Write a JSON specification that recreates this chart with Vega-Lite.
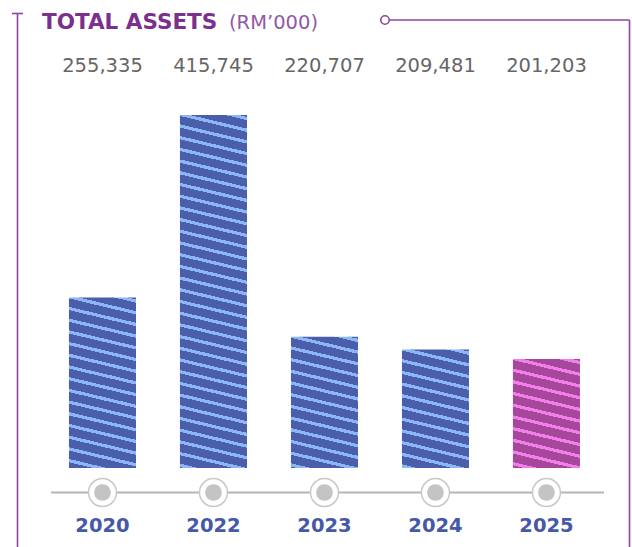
{
  "$schema": "https://vega.github.io/schema/vega-lite/v6.json",
  "width": 632,
  "height": 547,
  "padding": 0,
  "autosize": {"type": "none"},
  "background": "white",
  "config": {"view": {"stroke": null}},
  "data": {"values": [
    {"year": "2020", "value": 255335},
    {"year": "2022", "value": 415745},
    {"year": "2023", "value": 220707},
    {"year": "2024", "value": 209481},
    {"year": "2025", "value": 201203}
  ]},
  "layer": [
    {"data": {"values": [{}]}, "mark": {"type": "rule", "stroke": "#8b46a3", "strokeWidth": 1.6}, "encoding": {"x": {"value": 17.5}, "y": {"value": 13}, "y2": {"value": 547}}},
    {"data": {"values": [{}]}, "mark": {"type": "rule", "stroke": "#8b46a3", "strokeWidth": 1.6}, "encoding": {"x": {"value": 12}, "x2": {"value": 23}, "y": {"value": 13.5}}},
    {"data": {"values": [{}]}, "mark": {"type": "rule", "stroke": "#8b46a3", "strokeWidth": 1.6}, "encoding": {"x": {"value": 389.5}, "x2": {"value": 629.5}, "y": {"value": 20}}},
    {"data": {"values": [{}]}, "mark": {"type": "rule", "stroke": "#8b46a3", "strokeWidth": 1.6}, "encoding": {"x": {"value": 629.5}, "y": {"value": 20}, "y2": {"value": 547}}},
    {"data": {"values": [{}]}, "mark": {"type": "point", "shape": "circle", "size": 72, "filled": true, "fill": "white", "stroke": "#8b46a3", "strokeWidth": 1.6, "opacity": 1}, "encoding": {"x": {"value": 385}, "y": {"value": 20}}},
    {"data": {"values": [{}]}, "mark": {"type": "text", "text": "TOTAL ASSETS", "align": "left", "baseline": "alphabetic", "font": "DejaVu Sans", "fontWeight": "bold", "fontSize": 21.5, "fill": "#7b2f8e"}, "encoding": {"x": {"value": 42}, "y": {"value": 28.5}}},
    {"data": {"values": [{}]}, "mark": {"type": "text", "text": "(RM’000)", "align": "left", "baseline": "alphabetic", "font": "DejaVu Sans", "fontWeight": "normal", "fontSize": 19.5, "fill": "#9358a6"}, "encoding": {"x": {"value": 229}, "y": {"value": 28.5}}},
    {"data": {"values": [{}]}, "mark": {"type": "rule", "stroke": "#b5b5b5", "strokeWidth": 2}, "encoding": {"x": {"value": 51}, "x2": {"value": 604}, "y": {"value": 492.5}}},
    {
      "transform": [{"filter": "datum.year == '2020'"}],
      "mark": {"type": "bar", "fill": {"gradient": "linear", "x1": 1, "y1": 0, "x2": 0.89832, "y2": 1.08424, "stops": [
        {"offset": 0, "color": "#4a5eab"},
        {"offset": 0.0107, "color": "#4a5eab"}, {"offset": 0.0107, "color": "#8cb6f6"}, {"offset": 0.0284, "color": "#8cb6f6"}, {"offset": 0.0284, "color": "#4a5eab"},
        {"offset": 0.0734, "color": "#4a5eab"}, {"offset": 0.0734, "color": "#8cb6f6"}, {"offset": 0.0911, "color": "#8cb6f6"}, {"offset": 0.0911, "color": "#4a5eab"},
        {"offset": 0.1361, "color": "#4a5eab"}, {"offset": 0.1361, "color": "#8cb6f6"}, {"offset": 0.1538, "color": "#8cb6f6"}, {"offset": 0.1538, "color": "#4a5eab"},
        {"offset": 0.1988, "color": "#4a5eab"}, {"offset": 0.1988, "color": "#8cb6f6"}, {"offset": 0.2165, "color": "#8cb6f6"}, {"offset": 0.2165, "color": "#4a5eab"},
        {"offset": 0.2615, "color": "#4a5eab"}, {"offset": 0.2615, "color": "#8cb6f6"}, {"offset": 0.2792, "color": "#8cb6f6"}, {"offset": 0.2792, "color": "#4a5eab"},
        {"offset": 0.3242, "color": "#4a5eab"}, {"offset": 0.3242, "color": "#8cb6f6"}, {"offset": 0.3419, "color": "#8cb6f6"}, {"offset": 0.3419, "color": "#4a5eab"},
        {"offset": 0.3869, "color": "#4a5eab"}, {"offset": 0.3869, "color": "#8cb6f6"}, {"offset": 0.4046, "color": "#8cb6f6"}, {"offset": 0.4046, "color": "#4a5eab"},
        {"offset": 0.4496, "color": "#4a5eab"}, {"offset": 0.4496, "color": "#8cb6f6"}, {"offset": 0.4673, "color": "#8cb6f6"}, {"offset": 0.4673, "color": "#4a5eab"},
        {"offset": 0.5123, "color": "#4a5eab"}, {"offset": 0.5123, "color": "#8cb6f6"}, {"offset": 0.5300, "color": "#8cb6f6"}, {"offset": 0.5300, "color": "#4a5eab"},
        {"offset": 0.5750, "color": "#4a5eab"}, {"offset": 0.5750, "color": "#8cb6f6"}, {"offset": 0.5927, "color": "#8cb6f6"}, {"offset": 0.5927, "color": "#4a5eab"},
        {"offset": 0.6377, "color": "#4a5eab"}, {"offset": 0.6377, "color": "#8cb6f6"}, {"offset": 0.6554, "color": "#8cb6f6"}, {"offset": 0.6554, "color": "#4a5eab"},
        {"offset": 0.7004, "color": "#4a5eab"}, {"offset": 0.7004, "color": "#8cb6f6"}, {"offset": 0.7181, "color": "#8cb6f6"}, {"offset": 0.7181, "color": "#4a5eab"},
        {"offset": 0.7631, "color": "#4a5eab"}, {"offset": 0.7631, "color": "#8cb6f6"}, {"offset": 0.7808, "color": "#8cb6f6"}, {"offset": 0.7808, "color": "#4a5eab"},
        {"offset": 0.8258, "color": "#4a5eab"}, {"offset": 0.8258, "color": "#8cb6f6"}, {"offset": 0.8435, "color": "#8cb6f6"}, {"offset": 0.8435, "color": "#4a5eab"},
        {"offset": 0.8885, "color": "#4a5eab"}, {"offset": 0.8885, "color": "#8cb6f6"}, {"offset": 0.9062, "color": "#8cb6f6"}, {"offset": 0.9062, "color": "#4a5eab"},
        {"offset": 0.9512, "color": "#4a5eab"}, {"offset": 0.9512, "color": "#8cb6f6"}, {"offset": 0.9689, "color": "#8cb6f6"}, {"offset": 0.9689, "color": "#4a5eab"},
        {"offset": 1, "color": "#4a5eab"}
      ]}},
      "encoding": {
        "x": {"field": "year", "type": "nominal", "axis": null, "scale": {"paddingInner": 0.396, "paddingOuter": 0.545, "align": 0.57}},
        "y": {"field": "value", "type": "quantitative", "axis": null, "scale": {"domain": [36000, 516700], "zero": false, "nice": false}},
        "y2": {"datum": 105400}
      }
    },
    {
      "transform": [{"filter": "datum.year == '2022'"}],
      "mark": {"type": "bar", "fill": {"gradient": "linear", "x1": 1, "y1": 0, "x2": 0.95273, "y2": 1.04317, "stops": [
        {"offset": 0, "color": "#4a5eab"},
        {"offset": 0.0054, "color": "#4a5eab"}, {"offset": 0.0054, "color": "#8cb6f6"}, {"offset": 0.0144, "color": "#8cb6f6"}, {"offset": 0.0144, "color": "#4a5eab"},
        {"offset": 0.0371, "color": "#4a5eab"}, {"offset": 0.0371, "color": "#8cb6f6"}, {"offset": 0.0461, "color": "#8cb6f6"}, {"offset": 0.0461, "color": "#4a5eab"},
        {"offset": 0.0688, "color": "#4a5eab"}, {"offset": 0.0688, "color": "#8cb6f6"}, {"offset": 0.0778, "color": "#8cb6f6"}, {"offset": 0.0778, "color": "#4a5eab"},
        {"offset": 0.1005, "color": "#4a5eab"}, {"offset": 0.1005, "color": "#8cb6f6"}, {"offset": 0.1095, "color": "#8cb6f6"}, {"offset": 0.1095, "color": "#4a5eab"},
        {"offset": 0.1322, "color": "#4a5eab"}, {"offset": 0.1322, "color": "#8cb6f6"}, {"offset": 0.1412, "color": "#8cb6f6"}, {"offset": 0.1412, "color": "#4a5eab"},
        {"offset": 0.1639, "color": "#4a5eab"}, {"offset": 0.1639, "color": "#8cb6f6"}, {"offset": 0.1729, "color": "#8cb6f6"}, {"offset": 0.1729, "color": "#4a5eab"},
        {"offset": 0.1956, "color": "#4a5eab"}, {"offset": 0.1956, "color": "#8cb6f6"}, {"offset": 0.2046, "color": "#8cb6f6"}, {"offset": 0.2046, "color": "#4a5eab"},
        {"offset": 0.2273, "color": "#4a5eab"}, {"offset": 0.2273, "color": "#8cb6f6"}, {"offset": 0.2363, "color": "#8cb6f6"}, {"offset": 0.2363, "color": "#4a5eab"},
        {"offset": 0.2590, "color": "#4a5eab"}, {"offset": 0.2590, "color": "#8cb6f6"}, {"offset": 0.2680, "color": "#8cb6f6"}, {"offset": 0.2680, "color": "#4a5eab"},
        {"offset": 0.2907, "color": "#4a5eab"}, {"offset": 0.2907, "color": "#8cb6f6"}, {"offset": 0.2996, "color": "#8cb6f6"}, {"offset": 0.2996, "color": "#4a5eab"},
        {"offset": 0.3224, "color": "#4a5eab"}, {"offset": 0.3224, "color": "#8cb6f6"}, {"offset": 0.3313, "color": "#8cb6f6"}, {"offset": 0.3313, "color": "#4a5eab"},
        {"offset": 0.3541, "color": "#4a5eab"}, {"offset": 0.3541, "color": "#8cb6f6"}, {"offset": 0.3630, "color": "#8cb6f6"}, {"offset": 0.3630, "color": "#4a5eab"},
        {"offset": 0.3858, "color": "#4a5eab"}, {"offset": 0.3858, "color": "#8cb6f6"}, {"offset": 0.3947, "color": "#8cb6f6"}, {"offset": 0.3947, "color": "#4a5eab"},
        {"offset": 0.4175, "color": "#4a5eab"}, {"offset": 0.4175, "color": "#8cb6f6"}, {"offset": 0.4264, "color": "#8cb6f6"}, {"offset": 0.4264, "color": "#4a5eab"},
        {"offset": 0.4492, "color": "#4a5eab"}, {"offset": 0.4492, "color": "#8cb6f6"}, {"offset": 0.4581, "color": "#8cb6f6"}, {"offset": 0.4581, "color": "#4a5eab"},
        {"offset": 0.4809, "color": "#4a5eab"}, {"offset": 0.4809, "color": "#8cb6f6"}, {"offset": 0.4898, "color": "#8cb6f6"}, {"offset": 0.4898, "color": "#4a5eab"},
        {"offset": 0.5126, "color": "#4a5eab"}, {"offset": 0.5126, "color": "#8cb6f6"}, {"offset": 0.5215, "color": "#8cb6f6"}, {"offset": 0.5215, "color": "#4a5eab"},
        {"offset": 0.5443, "color": "#4a5eab"}, {"offset": 0.5443, "color": "#8cb6f6"}, {"offset": 0.5532, "color": "#8cb6f6"}, {"offset": 0.5532, "color": "#4a5eab"},
        {"offset": 0.5760, "color": "#4a5eab"}, {"offset": 0.5760, "color": "#8cb6f6"}, {"offset": 0.5849, "color": "#8cb6f6"}, {"offset": 0.5849, "color": "#4a5eab"},
        {"offset": 0.6077, "color": "#4a5eab"}, {"offset": 0.6077, "color": "#8cb6f6"}, {"offset": 0.6166, "color": "#8cb6f6"}, {"offset": 0.6166, "color": "#4a5eab"},
        {"offset": 0.6394, "color": "#4a5eab"}, {"offset": 0.6394, "color": "#8cb6f6"}, {"offset": 0.6483, "color": "#8cb6f6"}, {"offset": 0.6483, "color": "#4a5eab"},
        {"offset": 0.6711, "color": "#4a5eab"}, {"offset": 0.6711, "color": "#8cb6f6"}, {"offset": 0.6800, "color": "#8cb6f6"}, {"offset": 0.6800, "color": "#4a5eab"},
        {"offset": 0.7028, "color": "#4a5eab"}, {"offset": 0.7028, "color": "#8cb6f6"}, {"offset": 0.7117, "color": "#8cb6f6"}, {"offset": 0.7117, "color": "#4a5eab"},
        {"offset": 0.7345, "color": "#4a5eab"}, {"offset": 0.7345, "color": "#8cb6f6"}, {"offset": 0.7434, "color": "#8cb6f6"}, {"offset": 0.7434, "color": "#4a5eab"},
        {"offset": 0.7662, "color": "#4a5eab"}, {"offset": 0.7662, "color": "#8cb6f6"}, {"offset": 0.7751, "color": "#8cb6f6"}, {"offset": 0.7751, "color": "#4a5eab"},
        {"offset": 0.7979, "color": "#4a5eab"}, {"offset": 0.7979, "color": "#8cb6f6"}, {"offset": 0.8068, "color": "#8cb6f6"}, {"offset": 0.8068, "color": "#4a5eab"},
        {"offset": 0.8296, "color": "#4a5eab"}, {"offset": 0.8296, "color": "#8cb6f6"}, {"offset": 0.8385, "color": "#8cb6f6"}, {"offset": 0.8385, "color": "#4a5eab"},
        {"offset": 0.8613, "color": "#4a5eab"}, {"offset": 0.8613, "color": "#8cb6f6"}, {"offset": 0.8702, "color": "#8cb6f6"}, {"offset": 0.8702, "color": "#4a5eab"},
        {"offset": 0.8930, "color": "#4a5eab"}, {"offset": 0.8930, "color": "#8cb6f6"}, {"offset": 0.9019, "color": "#8cb6f6"}, {"offset": 0.9019, "color": "#4a5eab"},
        {"offset": 0.9247, "color": "#4a5eab"}, {"offset": 0.9247, "color": "#8cb6f6"}, {"offset": 0.9336, "color": "#8cb6f6"}, {"offset": 0.9336, "color": "#4a5eab"},
        {"offset": 0.9564, "color": "#4a5eab"}, {"offset": 0.9564, "color": "#8cb6f6"}, {"offset": 0.9653, "color": "#8cb6f6"}, {"offset": 0.9653, "color": "#4a5eab"},
        {"offset": 0.9881, "color": "#4a5eab"}, {"offset": 0.9881, "color": "#8cb6f6"}, {"offset": 0.9970, "color": "#8cb6f6"}, {"offset": 0.9970, "color": "#4a5eab"},
        {"offset": 1, "color": "#4a5eab"}
      ]}},
      "encoding": {
        "x": {"field": "year", "type": "nominal", "axis": null, "scale": {"paddingInner": 0.396, "paddingOuter": 0.545, "align": 0.57}},
        "y": {"field": "value", "type": "quantitative", "axis": null, "scale": {"domain": [36000, 516700], "zero": false, "nice": false}},
        "y2": {"datum": 105400}
      }
    },
    {
      "transform": [{"filter": "datum.year == '2023'"}],
      "mark": {"type": "bar", "fill": {"gradient": "linear", "x1": 1, "y1": 0, "x2": 0.86518, "y2": 1.10551, "stops": [
        {"offset": 0, "color": "#4a5eab"},
        {"offset": 0.0136, "color": "#4a5eab"}, {"offset": 0.0136, "color": "#8cb6f6"}, {"offset": 0.0360, "color": "#8cb6f6"}, {"offset": 0.0360, "color": "#4a5eab"},
        {"offset": 0.0931, "color": "#4a5eab"}, {"offset": 0.0931, "color": "#8cb6f6"}, {"offset": 0.1155, "color": "#8cb6f6"}, {"offset": 0.1155, "color": "#4a5eab"},
        {"offset": 0.1726, "color": "#4a5eab"}, {"offset": 0.1726, "color": "#8cb6f6"}, {"offset": 0.1950, "color": "#8cb6f6"}, {"offset": 0.1950, "color": "#4a5eab"},
        {"offset": 0.2520, "color": "#4a5eab"}, {"offset": 0.2520, "color": "#8cb6f6"}, {"offset": 0.2745, "color": "#8cb6f6"}, {"offset": 0.2745, "color": "#4a5eab"},
        {"offset": 0.3315, "color": "#4a5eab"}, {"offset": 0.3315, "color": "#8cb6f6"}, {"offset": 0.3539, "color": "#8cb6f6"}, {"offset": 0.3539, "color": "#4a5eab"},
        {"offset": 0.4110, "color": "#4a5eab"}, {"offset": 0.4110, "color": "#8cb6f6"}, {"offset": 0.4334, "color": "#8cb6f6"}, {"offset": 0.4334, "color": "#4a5eab"},
        {"offset": 0.4905, "color": "#4a5eab"}, {"offset": 0.4905, "color": "#8cb6f6"}, {"offset": 0.5129, "color": "#8cb6f6"}, {"offset": 0.5129, "color": "#4a5eab"},
        {"offset": 0.5700, "color": "#4a5eab"}, {"offset": 0.5700, "color": "#8cb6f6"}, {"offset": 0.5924, "color": "#8cb6f6"}, {"offset": 0.5924, "color": "#4a5eab"},
        {"offset": 0.6495, "color": "#4a5eab"}, {"offset": 0.6495, "color": "#8cb6f6"}, {"offset": 0.6719, "color": "#8cb6f6"}, {"offset": 0.6719, "color": "#4a5eab"},
        {"offset": 0.7289, "color": "#4a5eab"}, {"offset": 0.7289, "color": "#8cb6f6"}, {"offset": 0.7514, "color": "#8cb6f6"}, {"offset": 0.7514, "color": "#4a5eab"},
        {"offset": 0.8084, "color": "#4a5eab"}, {"offset": 0.8084, "color": "#8cb6f6"}, {"offset": 0.8308, "color": "#8cb6f6"}, {"offset": 0.8308, "color": "#4a5eab"},
        {"offset": 0.8879, "color": "#4a5eab"}, {"offset": 0.8879, "color": "#8cb6f6"}, {"offset": 0.9103, "color": "#8cb6f6"}, {"offset": 0.9103, "color": "#4a5eab"},
        {"offset": 0.9674, "color": "#4a5eab"}, {"offset": 0.9674, "color": "#8cb6f6"}, {"offset": 0.9898, "color": "#8cb6f6"}, {"offset": 0.9898, "color": "#4a5eab"},
        {"offset": 1, "color": "#4a5eab"}
      ]}},
      "encoding": {
        "x": {"field": "year", "type": "nominal", "axis": null, "scale": {"paddingInner": 0.396, "paddingOuter": 0.545, "align": 0.57}},
        "y": {"field": "value", "type": "quantitative", "axis": null, "scale": {"domain": [36000, 516700], "zero": false, "nice": false}},
        "y2": {"datum": 105400}
      }
    },
    {
      "transform": [{"filter": "datum.year == '2024'"}],
      "mark": {"type": "bar", "fill": {"gradient": "linear", "x1": 1, "y1": 0, "x2": 0.84935, "y2": 1.11478, "stops": [
        {"offset": 0, "color": "#4a5eab"},
        {"offset": 0.0149, "color": "#4a5eab"}, {"offset": 0.0149, "color": "#8cb6f6"}, {"offset": 0.0394, "color": "#8cb6f6"}, {"offset": 0.0394, "color": "#4a5eab"},
        {"offset": 0.1019, "color": "#4a5eab"}, {"offset": 0.1019, "color": "#8cb6f6"}, {"offset": 0.1265, "color": "#8cb6f6"}, {"offset": 0.1265, "color": "#4a5eab"},
        {"offset": 0.1890, "color": "#4a5eab"}, {"offset": 0.1890, "color": "#8cb6f6"}, {"offset": 0.2135, "color": "#8cb6f6"}, {"offset": 0.2135, "color": "#4a5eab"},
        {"offset": 0.2760, "color": "#4a5eab"}, {"offset": 0.2760, "color": "#8cb6f6"}, {"offset": 0.3006, "color": "#8cb6f6"}, {"offset": 0.3006, "color": "#4a5eab"},
        {"offset": 0.3631, "color": "#4a5eab"}, {"offset": 0.3631, "color": "#8cb6f6"}, {"offset": 0.3877, "color": "#8cb6f6"}, {"offset": 0.3877, "color": "#4a5eab"},
        {"offset": 0.4502, "color": "#4a5eab"}, {"offset": 0.4502, "color": "#8cb6f6"}, {"offset": 0.4747, "color": "#8cb6f6"}, {"offset": 0.4747, "color": "#4a5eab"},
        {"offset": 0.5372, "color": "#4a5eab"}, {"offset": 0.5372, "color": "#8cb6f6"}, {"offset": 0.5618, "color": "#8cb6f6"}, {"offset": 0.5618, "color": "#4a5eab"},
        {"offset": 0.6243, "color": "#4a5eab"}, {"offset": 0.6243, "color": "#8cb6f6"}, {"offset": 0.6488, "color": "#8cb6f6"}, {"offset": 0.6488, "color": "#4a5eab"},
        {"offset": 0.7113, "color": "#4a5eab"}, {"offset": 0.7113, "color": "#8cb6f6"}, {"offset": 0.7359, "color": "#8cb6f6"}, {"offset": 0.7359, "color": "#4a5eab"},
        {"offset": 0.7984, "color": "#4a5eab"}, {"offset": 0.7984, "color": "#8cb6f6"}, {"offset": 0.8229, "color": "#8cb6f6"}, {"offset": 0.8229, "color": "#4a5eab"},
        {"offset": 0.8854, "color": "#4a5eab"}, {"offset": 0.8854, "color": "#8cb6f6"}, {"offset": 0.9100, "color": "#8cb6f6"}, {"offset": 0.9100, "color": "#4a5eab"},
        {"offset": 0.9725, "color": "#4a5eab"}, {"offset": 0.9725, "color": "#8cb6f6"}, {"offset": 0.9970, "color": "#8cb6f6"}, {"offset": 0.9970, "color": "#4a5eab"},
        {"offset": 1, "color": "#4a5eab"}
      ]}},
      "encoding": {
        "x": {"field": "year", "type": "nominal", "axis": null, "scale": {"paddingInner": 0.396, "paddingOuter": 0.545, "align": 0.57}},
        "y": {"field": "value", "type": "quantitative", "axis": null, "scale": {"domain": [36000, 516700], "zero": false, "nice": false}},
        "y2": {"datum": 105400}
      }
    },
    {
      "transform": [{"filter": "datum.year == '2025'"}],
      "mark": {"type": "bar", "fill": {"gradient": "linear", "x1": 1, "y1": 0, "x2": 0.83522, "y2": 1.1226, "stops": [
        {"offset": 0, "color": "#a6479c"},
        {"offset": 0.0160, "color": "#a6479c"}, {"offset": 0.0160, "color": "#f27fe9"}, {"offset": 0.0424, "color": "#f27fe9"}, {"offset": 0.0424, "color": "#a6479c"},
        {"offset": 0.1096, "color": "#a6479c"}, {"offset": 0.1096, "color": "#f27fe9"}, {"offset": 0.1360, "color": "#f27fe9"}, {"offset": 0.1360, "color": "#a6479c"},
        {"offset": 0.2032, "color": "#a6479c"}, {"offset": 0.2032, "color": "#f27fe9"}, {"offset": 0.2296, "color": "#f27fe9"}, {"offset": 0.2296, "color": "#a6479c"},
        {"offset": 0.2968, "color": "#a6479c"}, {"offset": 0.2968, "color": "#f27fe9"}, {"offset": 0.3232, "color": "#f27fe9"}, {"offset": 0.3232, "color": "#a6479c"},
        {"offset": 0.3904, "color": "#a6479c"}, {"offset": 0.3904, "color": "#f27fe9"}, {"offset": 0.4168, "color": "#f27fe9"}, {"offset": 0.4168, "color": "#a6479c"},
        {"offset": 0.4840, "color": "#a6479c"}, {"offset": 0.4840, "color": "#f27fe9"}, {"offset": 0.5104, "color": "#f27fe9"}, {"offset": 0.5104, "color": "#a6479c"},
        {"offset": 0.5776, "color": "#a6479c"}, {"offset": 0.5776, "color": "#f27fe9"}, {"offset": 0.6040, "color": "#f27fe9"}, {"offset": 0.6040, "color": "#a6479c"},
        {"offset": 0.6712, "color": "#a6479c"}, {"offset": 0.6712, "color": "#f27fe9"}, {"offset": 0.6976, "color": "#f27fe9"}, {"offset": 0.6976, "color": "#a6479c"},
        {"offset": 0.7648, "color": "#a6479c"}, {"offset": 0.7648, "color": "#f27fe9"}, {"offset": 0.7912, "color": "#f27fe9"}, {"offset": 0.7912, "color": "#a6479c"},
        {"offset": 0.8584, "color": "#a6479c"}, {"offset": 0.8584, "color": "#f27fe9"}, {"offset": 0.8848, "color": "#f27fe9"}, {"offset": 0.8848, "color": "#a6479c"},
        {"offset": 0.9520, "color": "#a6479c"}, {"offset": 0.9520, "color": "#f27fe9"}, {"offset": 0.9784, "color": "#f27fe9"}, {"offset": 0.9784, "color": "#a6479c"},
        {"offset": 1, "color": "#a6479c"}
      ]}},
      "encoding": {
        "x": {"field": "year", "type": "nominal", "axis": null, "scale": {"paddingInner": 0.396, "paddingOuter": 0.545, "align": 0.57}},
        "y": {"field": "value", "type": "quantitative", "axis": null, "scale": {"domain": [36000, 516700], "zero": false, "nice": false}},
        "y2": {"datum": 105400}
      }
    },
    {
      "mark": {"type": "point", "shape": "circle", "size": 784, "filled": true, "fill": "white", "stroke": "#c8c8c8", "strokeWidth": 1.5, "opacity": 1},
      "encoding": {
        "x": {"field": "year", "type": "nominal", "axis": null, "scale": {"paddingInner": 0.396, "paddingOuter": 0.545, "align": 0.57}},
        "y": {"value": 492.5}
      }
    },
    {
      "mark": {"type": "circle", "size": 279, "color": "#c4c4c4", "opacity": 1},
      "encoding": {
        "x": {"field": "year", "type": "nominal", "axis": null, "scale": {"paddingInner": 0.396, "paddingOuter": 0.545, "align": 0.57}},
        "y": {"value": 492.5}
      }
    },
    {
      "mark": {"type": "text", "font": "DejaVu Sans", "fontSize": 19.5, "fontWeight": "normal", "fill": "#666666", "baseline": "middle"},
      "encoding": {
        "x": {"field": "year", "type": "nominal", "axis": null, "scale": {"paddingInner": 0.396, "paddingOuter": 0.545, "align": 0.57}},
        "y": {"value": 66},
        "text": {"field": "value", "type": "quantitative", "format": ","}
      }
    },
    {
      "mark": {"type": "text", "font": "DejaVu Sans", "fontSize": 19.5, "fontWeight": "bold", "fill": "#4659a8", "baseline": "middle"},
      "encoding": {
        "x": {"field": "year", "type": "nominal", "axis": null, "scale": {"paddingInner": 0.396, "paddingOuter": 0.545, "align": 0.57}},
        "y": {"value": 526},
        "text": {"field": "year", "type": "nominal"}
      }
    }
  ]
}
